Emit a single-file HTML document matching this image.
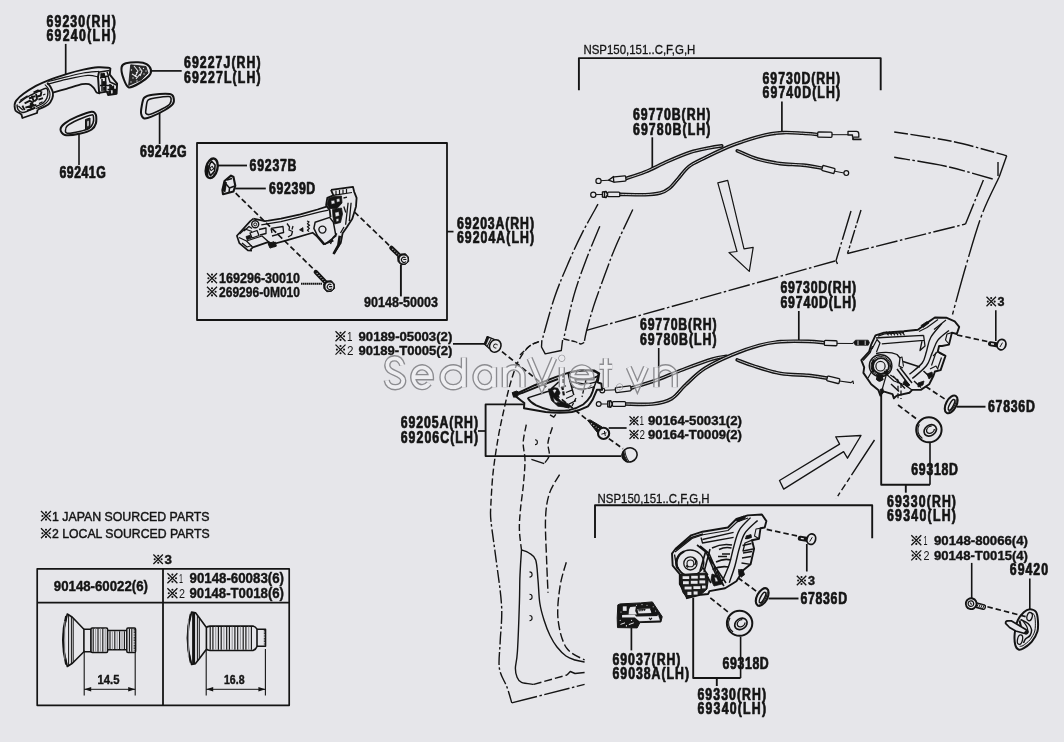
<!DOCTYPE html>
<html><head><meta charset="utf-8"><title>Door lock &amp; handle diagram</title>
<style>
html,body{margin:0;padding:0;background:#e6e6ea;}
body{width:1064px;height:742px;overflow:hidden;font-family:"Liberation Sans",sans-serif;}
svg{display:block;}
svg text{font-family:"Liberation Sans",sans-serif;fill:#141414;}
</style></head><body>
<svg width="1064" height="742" viewBox="0 0 1064 742">
<rect x="0" y="0" width="1064" height="742" style="fill:#e6e6ea;stroke:none"/>
<g fill="none" stroke="#141414" stroke-linejoin="round" stroke-linecap="butt" opacity="0.999">
<text transform="translate(46.4 26.5) scale(0.77 1)" x="0" y="0" font-size="16" font-weight="bold" textLength="90.1" lengthAdjust="spacing" stroke="#141414" stroke-width="0.75">69230(RH)</text>
<text transform="translate(46.4 41.4) scale(0.77 1)" x="0" y="0" font-size="16" font-weight="bold" textLength="90.1" lengthAdjust="spacing" stroke="#141414" stroke-width="0.75">69240(LH)</text>
<text transform="translate(184.0 67.7) scale(0.77 1)" x="0" y="0" font-size="16" font-weight="bold" textLength="99.5" lengthAdjust="spacing" stroke="#141414" stroke-width="0.75">69227J(RH)</text>
<text transform="translate(184.0 82.7) scale(0.77 1)" x="0" y="0" font-size="16" font-weight="bold" textLength="99.5" lengthAdjust="spacing" stroke="#141414" stroke-width="0.75">69227L(LH)</text>
<text transform="translate(140.0 157.4) scale(0.77 1)" x="0" y="0" font-size="16" font-weight="bold" textLength="60.6" lengthAdjust="spacing" stroke="#141414" stroke-width="0.75">69242G</text>
<text transform="translate(59.4 178.4) scale(0.77 1)" x="0" y="0" font-size="16" font-weight="bold" textLength="60.3" lengthAdjust="spacing" stroke="#141414" stroke-width="0.75">69241G</text>
<text transform="translate(249.6 171.3) scale(0.77 1)" x="0" y="0" font-size="16" font-weight="bold" textLength="60.9" lengthAdjust="spacing" stroke="#141414" stroke-width="0.75">69237B</text>
<text transform="translate(269.0 193.9) scale(0.77 1)" x="0" y="0" font-size="16" font-weight="bold" textLength="60.1" lengthAdjust="spacing" stroke="#141414" stroke-width="0.75">69239D</text>
<g stroke="#141414" stroke-width="1.3" fill="none"><path d="M207.0 273.2L217.0 283.2M217.0 273.2L207.0 283.2"/></g>
<circle cx="212.0" cy="274.6" r="1.05" fill="#141414" stroke="none"/>
<circle cx="212.0" cy="281.8" r="1.05" fill="#141414" stroke="none"/>
<circle cx="208.4" cy="278.2" r="1.05" fill="#141414" stroke="none"/>
<circle cx="215.6" cy="278.2" r="1.05" fill="#141414" stroke="none"/>
<text x="219.0" y="283.0" font-size="14.5" font-weight="bold" textLength="81.0" lengthAdjust="spacingAndGlyphs" stroke="#141414" stroke-width="0.4">169296-30010</text>
<g stroke="#141414" stroke-width="1.3" fill="none"><path d="M207.0 286.8L217.0 296.8M217.0 286.8L207.0 296.8"/></g>
<circle cx="212.0" cy="288.2" r="1.05" fill="#141414" stroke="none"/>
<circle cx="212.0" cy="295.4" r="1.05" fill="#141414" stroke="none"/>
<circle cx="208.4" cy="291.8" r="1.05" fill="#141414" stroke="none"/>
<circle cx="215.6" cy="291.8" r="1.05" fill="#141414" stroke="none"/>
<text x="219.0" y="296.6" font-size="14.5" font-weight="bold" textLength="81.0" lengthAdjust="spacingAndGlyphs" stroke="#141414" stroke-width="0.4">269296-0M010</text>
<text x="364.0" y="307.4" font-size="14" font-weight="bold" textLength="74.0" lengthAdjust="spacingAndGlyphs" stroke="#141414" stroke-width="0.4">90148-50003</text>
<text transform="translate(457.0 228.6) scale(0.77 1)" x="0" y="0" font-size="16" font-weight="bold" textLength="100.0" lengthAdjust="spacing" stroke="#141414" stroke-width="0.75">69203A(RH)</text>
<text transform="translate(457.0 243.0) scale(0.77 1)" x="0" y="0" font-size="16" font-weight="bold" textLength="100.0" lengthAdjust="spacing" stroke="#141414" stroke-width="0.75">69204A(LH)</text>
<g stroke="#141414" stroke-width="1.3" fill="none"><path d="M335.5 331.3L345.5 341.3M345.5 331.3L335.5 341.3"/></g>
<circle cx="340.5" cy="332.7" r="1.05" fill="#141414" stroke="none"/>
<circle cx="340.5" cy="339.9" r="1.05" fill="#141414" stroke="none"/>
<circle cx="336.9" cy="336.3" r="1.05" fill="#141414" stroke="none"/>
<circle cx="344.1" cy="336.3" r="1.05" fill="#141414" stroke="none"/>
<text x="347.0" y="341.3" font-size="13" font-weight="normal" textLength="5.5" lengthAdjust="spacingAndGlyphs" stroke="none">1</text>
<text x="358.5" y="341.3" font-size="13.5" font-weight="bold" textLength="93.8" lengthAdjust="spacingAndGlyphs" stroke="#141414" stroke-width="0.4">90189-05003(2)</text>
<g stroke="#141414" stroke-width="1.3" fill="none"><path d="M335.5 344.6L345.5 354.6M345.5 344.6L335.5 354.6"/></g>
<circle cx="340.5" cy="346.0" r="1.05" fill="#141414" stroke="none"/>
<circle cx="340.5" cy="353.2" r="1.05" fill="#141414" stroke="none"/>
<circle cx="336.9" cy="349.6" r="1.05" fill="#141414" stroke="none"/>
<circle cx="344.1" cy="349.6" r="1.05" fill="#141414" stroke="none"/>
<text x="347.0" y="354.6" font-size="13" font-weight="normal" textLength="6.5" lengthAdjust="spacingAndGlyphs" stroke="none">2</text>
<text x="358.5" y="354.6" font-size="13.5" font-weight="bold" textLength="93.8" lengthAdjust="spacingAndGlyphs" stroke="#141414" stroke-width="0.4">90189-T0005(2)</text>
<text transform="translate(400.7 428.3) scale(0.77 1)" x="0" y="0" font-size="16" font-weight="bold" textLength="100.4" lengthAdjust="spacing" stroke="#141414" stroke-width="0.75">69205A(RH)</text>
<text transform="translate(400.7 442.8) scale(0.77 1)" x="0" y="0" font-size="16" font-weight="bold" textLength="100.4" lengthAdjust="spacing" stroke="#141414" stroke-width="0.75">69206C(LH)</text>
<g stroke="#141414" stroke-width="1.3" fill="none"><path d="M629.5 416.3L638.5 425.3M638.5 416.3L629.5 425.3"/></g>
<circle cx="634.0" cy="417.6" r="1.05" fill="#141414" stroke="none"/>
<circle cx="634.0" cy="424.0" r="1.05" fill="#141414" stroke="none"/>
<circle cx="630.8" cy="420.8" r="1.05" fill="#141414" stroke="none"/>
<circle cx="637.2" cy="420.8" r="1.05" fill="#141414" stroke="none"/>
<text x="639.5" y="425.3" font-size="12" font-weight="normal" textLength="4.5" lengthAdjust="spacingAndGlyphs" stroke="none">1</text>
<text x="648.0" y="425.3" font-size="12.5" font-weight="bold" textLength="94.0" lengthAdjust="spacingAndGlyphs" stroke="#141414" stroke-width="0.4">90164-50031(2)</text>
<g stroke="#141414" stroke-width="1.3" fill="none"><path d="M629.5 430.0L638.5 439.0M638.5 430.0L629.5 439.0"/></g>
<circle cx="634.0" cy="431.3" r="1.05" fill="#141414" stroke="none"/>
<circle cx="634.0" cy="437.7" r="1.05" fill="#141414" stroke="none"/>
<circle cx="630.8" cy="434.5" r="1.05" fill="#141414" stroke="none"/>
<circle cx="637.2" cy="434.5" r="1.05" fill="#141414" stroke="none"/>
<text x="639.5" y="439.0" font-size="12" font-weight="normal" textLength="5.5" lengthAdjust="spacingAndGlyphs" stroke="none">2</text>
<text x="648.0" y="439.0" font-size="12.5" font-weight="bold" textLength="94.0" lengthAdjust="spacingAndGlyphs" stroke="#141414" stroke-width="0.4">90164-T0009(2)</text>
<text x="583.4" y="54.0" font-size="12.4" font-weight="normal" textLength="112.0" lengthAdjust="spacingAndGlyphs" stroke="#141414" stroke-width="0.3">NSP150,151..C,F,G,H</text>
<text transform="translate(633.0 119.8) scale(0.77 1)" x="0" y="0" font-size="16" font-weight="bold" textLength="100.5" lengthAdjust="spacing" stroke="#141414" stroke-width="0.75">69770B(RH)</text>
<text transform="translate(633.0 134.6) scale(0.77 1)" x="0" y="0" font-size="16" font-weight="bold" textLength="100.5" lengthAdjust="spacing" stroke="#141414" stroke-width="0.75">69780B(LH)</text>
<text transform="translate(762.6 84.0) scale(0.77 1)" x="0" y="0" font-size="16" font-weight="bold" textLength="100.6" lengthAdjust="spacing" stroke="#141414" stroke-width="0.75">69730D(RH)</text>
<text transform="translate(762.6 98.2) scale(0.77 1)" x="0" y="0" font-size="16" font-weight="bold" textLength="100.6" lengthAdjust="spacing" stroke="#141414" stroke-width="0.75">69740D(LH)</text>
<text transform="translate(780.4 293.0) scale(0.77 1)" x="0" y="0" font-size="16" font-weight="bold" textLength="98.2" lengthAdjust="spacing" stroke="#141414" stroke-width="0.75">69730D(RH)</text>
<text transform="translate(780.4 308.0) scale(0.77 1)" x="0" y="0" font-size="16" font-weight="bold" textLength="98.2" lengthAdjust="spacing" stroke="#141414" stroke-width="0.75">69740D(LH)</text>
<text transform="translate(640.0 330.0) scale(0.77 1)" x="0" y="0" font-size="16" font-weight="bold" textLength="99.4" lengthAdjust="spacing" stroke="#141414" stroke-width="0.75">69770B(RH)</text>
<text transform="translate(640.0 345.0) scale(0.77 1)" x="0" y="0" font-size="16" font-weight="bold" textLength="99.4" lengthAdjust="spacing" stroke="#141414" stroke-width="0.75">69780B(LH)</text>
<g stroke="#141414" stroke-width="1.3" fill="none"><path d="M986.5 296.8L996.0 306.3M996.0 296.8L986.5 306.3"/></g>
<circle cx="991.2" cy="298.1" r="1.05" fill="#141414" stroke="none"/>
<circle cx="991.2" cy="305.0" r="1.05" fill="#141414" stroke="none"/>
<circle cx="987.8" cy="301.6" r="1.05" fill="#141414" stroke="none"/>
<circle cx="994.7" cy="301.6" r="1.05" fill="#141414" stroke="none"/>
<text x="997.5" y="306.3" font-size="12" font-weight="bold" textLength="7.0" lengthAdjust="spacingAndGlyphs" stroke="#141414" stroke-width="0.4">3</text>
<text transform="translate(988.0 411.6) scale(0.77 1)" x="0" y="0" font-size="16" font-weight="bold" textLength="60.8" lengthAdjust="spacing" stroke="#141414" stroke-width="0.75">67836D</text>
<text transform="translate(911.3 474.6) scale(0.77 1)" x="0" y="0" font-size="16" font-weight="bold" textLength="60.6" lengthAdjust="spacing" stroke="#141414" stroke-width="0.75">69318D</text>
<text transform="translate(887.0 506.5) scale(0.77 1)" x="0" y="0" font-size="16" font-weight="bold" textLength="89.6" lengthAdjust="spacing" stroke="#141414" stroke-width="0.75">69330(RH)</text>
<text transform="translate(887.0 521.0) scale(0.77 1)" x="0" y="0" font-size="16" font-weight="bold" textLength="89.6" lengthAdjust="spacing" stroke="#141414" stroke-width="0.75">69340(LH)</text>
<g stroke="#141414" stroke-width="1.3" fill="none"><path d="M911.3 535.3L921.3 545.3M921.3 535.3L911.3 545.3"/></g>
<circle cx="916.3" cy="536.7" r="1.05" fill="#141414" stroke="none"/>
<circle cx="916.3" cy="543.9" r="1.05" fill="#141414" stroke="none"/>
<circle cx="912.7" cy="540.3" r="1.05" fill="#141414" stroke="none"/>
<circle cx="919.9" cy="540.3" r="1.05" fill="#141414" stroke="none"/>
<text x="923.5" y="545.3" font-size="13" font-weight="normal" textLength="4.0" lengthAdjust="spacingAndGlyphs" stroke="none">1</text>
<text x="934.0" y="545.3" font-size="13.5" font-weight="bold" textLength="94.0" lengthAdjust="spacingAndGlyphs" stroke="#141414" stroke-width="0.4">90148-80066(4)</text>
<g stroke="#141414" stroke-width="1.3" fill="none"><path d="M911.3 550.4L921.3 560.4M921.3 550.4L911.3 560.4"/></g>
<circle cx="916.3" cy="551.8" r="1.05" fill="#141414" stroke="none"/>
<circle cx="916.3" cy="559.0" r="1.05" fill="#141414" stroke="none"/>
<circle cx="912.7" cy="555.4" r="1.05" fill="#141414" stroke="none"/>
<circle cx="919.9" cy="555.4" r="1.05" fill="#141414" stroke="none"/>
<text x="923.5" y="560.4" font-size="13" font-weight="normal" textLength="6.0" lengthAdjust="spacingAndGlyphs" stroke="none">2</text>
<text x="934.0" y="560.4" font-size="13.5" font-weight="bold" textLength="94.0" lengthAdjust="spacingAndGlyphs" stroke="#141414" stroke-width="0.4">90148-T0015(4)</text>
<text transform="translate(1009.8 575.4) scale(0.77 1)" x="0" y="0" font-size="16" font-weight="bold" textLength="49.6" lengthAdjust="spacing" stroke="#141414" stroke-width="0.75">69420</text>
<text x="597.5" y="503.0" font-size="12.4" font-weight="normal" textLength="112.0" lengthAdjust="spacingAndGlyphs" stroke="#141414" stroke-width="0.3">NSP150,151..C,F,G,H</text>
<g stroke="#141414" stroke-width="1.3" fill="none"><path d="M796.8 575.8L806.3 585.3M806.3 575.8L796.8 585.3"/></g>
<circle cx="801.5" cy="577.1" r="1.05" fill="#141414" stroke="none"/>
<circle cx="801.5" cy="584.0" r="1.05" fill="#141414" stroke="none"/>
<circle cx="798.1" cy="580.5" r="1.05" fill="#141414" stroke="none"/>
<circle cx="805.0" cy="580.5" r="1.05" fill="#141414" stroke="none"/>
<text x="808.0" y="585.3" font-size="12" font-weight="bold" textLength="7.0" lengthAdjust="spacingAndGlyphs" stroke="#141414" stroke-width="0.4">3</text>
<text transform="translate(800.6 604.0) scale(0.77 1)" x="0" y="0" font-size="16" font-weight="bold" textLength="60.3" lengthAdjust="spacing" stroke="#141414" stroke-width="0.75">67836D</text>
<text transform="translate(612.5 664.5) scale(0.77 1)" x="0" y="0" font-size="16" font-weight="bold" textLength="88.3" lengthAdjust="spacing" stroke="#141414" stroke-width="0.75">69037(RH)</text>
<text transform="translate(612.5 678.8) scale(0.77 1)" x="0" y="0" font-size="16" font-weight="bold" textLength="99.4" lengthAdjust="spacing" stroke="#141414" stroke-width="0.75">69038A(LH)</text>
<text transform="translate(722.5 668.8) scale(0.77 1)" x="0" y="0" font-size="16" font-weight="bold" textLength="60.1" lengthAdjust="spacing" stroke="#141414" stroke-width="0.75">69318D</text>
<text transform="translate(697.5 699.5) scale(0.77 1)" x="0" y="0" font-size="16" font-weight="bold" textLength="89.0" lengthAdjust="spacing" stroke="#141414" stroke-width="0.75">69330(RH)</text>
<text transform="translate(697.5 713.8) scale(0.77 1)" x="0" y="0" font-size="16" font-weight="bold" textLength="89.0" lengthAdjust="spacing" stroke="#141414" stroke-width="0.75">69340(LH)</text>
<g stroke="#141414" stroke-width="1.3" fill="none"><path d="M41.0 511.0L51.0 521.0M51.0 511.0L41.0 521.0"/></g>
<circle cx="46.0" cy="512.4" r="1.05" fill="#141414" stroke="none"/>
<circle cx="46.0" cy="519.6" r="1.05" fill="#141414" stroke="none"/>
<circle cx="42.4" cy="516.0" r="1.05" fill="#141414" stroke="none"/>
<circle cx="49.6" cy="516.0" r="1.05" fill="#141414" stroke="none"/>
<text x="52.0" y="521.0" font-size="12.5" font-weight="normal" textLength="157.6" lengthAdjust="spacingAndGlyphs" stroke="#141414" stroke-width="0.45">1 JAPAN SOURCED PARTS</text>
<g stroke="#141414" stroke-width="1.3" fill="none"><path d="M41.0 528.3L51.0 538.3M51.0 528.3L41.0 538.3"/></g>
<circle cx="46.0" cy="529.7" r="1.05" fill="#141414" stroke="none"/>
<circle cx="46.0" cy="536.9" r="1.05" fill="#141414" stroke="none"/>
<circle cx="42.4" cy="533.3" r="1.05" fill="#141414" stroke="none"/>
<circle cx="49.6" cy="533.3" r="1.05" fill="#141414" stroke="none"/>
<text x="52.0" y="538.3" font-size="12.5" font-weight="normal" textLength="157.6" lengthAdjust="spacingAndGlyphs" stroke="#141414" stroke-width="0.45">2 LOCAL SOURCED PARTS</text>
<g stroke="#141414" stroke-width="1.3" fill="none"><path d="M153.4 554.5L162.9 564.0M162.9 554.5L153.4 564.0"/></g>
<circle cx="158.2" cy="555.8" r="1.05" fill="#141414" stroke="none"/>
<circle cx="158.2" cy="562.7" r="1.05" fill="#141414" stroke="none"/>
<circle cx="154.7" cy="559.2" r="1.05" fill="#141414" stroke="none"/>
<circle cx="161.6" cy="559.2" r="1.05" fill="#141414" stroke="none"/>
<text x="164.5" y="564.0" font-size="12" font-weight="bold" textLength="7.4" lengthAdjust="spacingAndGlyphs" stroke="#141414" stroke-width="0.4">3</text>
<text x="53.8" y="590.6" font-size="14" font-weight="bold" textLength="94.2" lengthAdjust="spacingAndGlyphs" stroke="#141414" stroke-width="0.4">90148-60022(6)</text>
<g stroke="#141414" stroke-width="1.3" fill="none"><path d="M167.4 573.2L177.4 583.2M177.4 573.2L167.4 583.2"/></g>
<circle cx="172.4" cy="574.6" r="1.05" fill="#141414" stroke="none"/>
<circle cx="172.4" cy="581.8" r="1.05" fill="#141414" stroke="none"/>
<circle cx="168.8" cy="578.2" r="1.05" fill="#141414" stroke="none"/>
<circle cx="176.0" cy="578.2" r="1.05" fill="#141414" stroke="none"/>
<text x="179.0" y="583.2" font-size="13" font-weight="normal" textLength="4.0" lengthAdjust="spacingAndGlyphs" stroke="none">1</text>
<text x="189.5" y="583.2" font-size="14" font-weight="bold" textLength="94.5" lengthAdjust="spacingAndGlyphs" stroke="#141414" stroke-width="0.4">90148-60083(6)</text>
<g stroke="#141414" stroke-width="1.3" fill="none"><path d="M167.4 588.3L177.4 598.3M177.4 588.3L167.4 598.3"/></g>
<circle cx="172.4" cy="589.7" r="1.05" fill="#141414" stroke="none"/>
<circle cx="172.4" cy="596.9" r="1.05" fill="#141414" stroke="none"/>
<circle cx="168.8" cy="593.3" r="1.05" fill="#141414" stroke="none"/>
<circle cx="176.0" cy="593.3" r="1.05" fill="#141414" stroke="none"/>
<text x="179.0" y="598.3" font-size="13" font-weight="normal" textLength="6.0" lengthAdjust="spacingAndGlyphs" stroke="none">2</text>
<text x="189.5" y="598.3" font-size="14" font-weight="bold" textLength="94.5" lengthAdjust="spacingAndGlyphs" stroke="#141414" stroke-width="0.4">90148-T0018(6)</text>
<text x="97.6" y="684.0" font-size="12" font-weight="bold" textLength="21.9" lengthAdjust="spacingAndGlyphs" stroke="#141414" stroke-width="0.4">14.5</text>
<text x="224.0" y="684.0" font-size="12" font-weight="bold" textLength="20.5" lengthAdjust="spacingAndGlyphs" stroke="#141414" stroke-width="0.4">16.8</text>
<path d="M65.7 43.9L65.7 74.0" stroke-width="1.7"/>
<path d="M150.4 70.9L181.7 70.9" stroke-width="1.7"/>
<path d="M159.6 112.8L159.6 144.0" stroke-width="1.7"/>
<path d="M79.0 134.0L79.0 165.0" stroke-width="1.6"/>
<rect x="197" y="143" width="250" height="177" stroke-width="1.8"/>
<path d="M447.0 231.6L453.5 231.6" stroke-width="1.7"/>
<path d="M217.9 165.5L247.0 165.5" stroke-width="1.8"/>
<path d="M235.2 188.5L265.8 188.5" stroke-width="1.8"/>
<path d="M235.7 193.2L316.0 271.5" stroke-width="1.7" stroke-dasharray="5.5 3"/>
<path d="M354.5 212.0L391.4 247.5" stroke-width="1.7" stroke-dasharray="5.5 3"/>
<path d="M400.9 265.0L400.9 296.4" stroke-width="1.9"/>
<path d="M301.0 283.8L322.0 283.8" stroke-width="1.9" stroke-dasharray="1.6 0.4"/>
<path d="M453.0 343.9L486.5 343.9" stroke-width="1.7"/>
<path d="M523.8 404.4L485.6 404.4L485.6 456.1L621.0 456.1" stroke-width="1.9"/>
<path d="M478.0 431.0L485.6 431.0" stroke-width="1.7"/>
<path d="M608.7 428.0L626.6 428.0" stroke-width="1.7"/>
<path d="M578.9 90.2L578.9 58.1L880.7 58.1L880.7 90.2" stroke-width="1.9"/>
<path d="M652.3 137.3L652.3 168.0" stroke-width="1.7"/>
<path d="M781.9 101.5L781.9 131.6" stroke-width="1.7"/>
<path d="M798.8 311.0L798.8 340.5" stroke-width="1.7"/>
<path d="M658.7 348.0L658.7 386.6" stroke-width="1.6"/>
<path d="M995.8 310.3L995.8 341.0" stroke-width="1.6"/>
<path d="M957.0 406.7L985.5 406.7" stroke-width="1.9"/>
<path d="M930.0 443.0L930.0 484.7" stroke-width="1.6"/>
<path d="M881.2 395.0L881.2 484.7L930.0 484.7" stroke-width="1.9"/>
<path d="M905.8 484.7L905.8 492.7" stroke-width="1.9"/>
<path d="M971.7 562.9L971.7 598.0" stroke-width="1.6"/>
<path d="M1029.8 578.6L1029.8 610.0" stroke-width="1.6"/>
<path d="M595.0 538.0L595.0 505.2L872.2 505.2L872.2 538.3" stroke-width="1.9"/>
<path d="M806.8 544.0L806.8 571.5" stroke-width="1.7"/>
<path d="M768.5 598.5L798.5 598.5" stroke-width="1.9"/>
<path d="M740.6 636.6L740.6 678.0" stroke-width="1.6"/>
<path d="M693.2 597.8L693.2 678.0L740.6 678.0" stroke-width="1.9"/>
<path d="M716.8 678.0L716.8 686.0" stroke-width="1.9"/>
<path d="M631.4 627.9L631.4 650.4" stroke-width="1.7"/>
<rect x="37.2" y="568.8" width="252" height="136.5" stroke-width="1.7"/>
<path d="M37.2 602.6L289.2 602.6" stroke-width="1.9"/>
<path d="M163.0 568.8L163.0 705.3" stroke-width="1.8"/>
<path d="M84.2 650.5L84.2 695.5" stroke-width="1.1"/>
<path d="M135.2 650.5L135.2 695.5" stroke-width="1.1"/>
<path d="M206.2 649.0L206.2 695.5" stroke-width="1.1"/>
<path d="M265.4 649.0L265.4 695.5" stroke-width="1.1"/>
<path d="M84.2 689.3L135.2 689.3" stroke-width="1.0"/>
<path d="M84.2 689.3l7 -2.2v4.4z M135.2 689.3l-7 -2.2v4.4z" fill="#141414" stroke="none"/>
<path d="M206.2 689.3L265.4 689.3" stroke-width="1.0"/>
<path d="M206.2 689.3l7 -2.2v4.4z M265.4 689.3l-7 -2.2v4.4z" fill="#141414" stroke="none"/>
<path d="M598.0 204.2C595.3 209.1 586.9 223.7 581.9 233.6C576.9 243.5 572.7 252.7 568.1 263.4C563.5 274.1 558.8 284.7 554.4 297.7C550.0 310.7 543.9 334.0 541.8 341.3" stroke-width="1.4" fill="none" stroke-dasharray="22 2.5 2.5 2.5"/>
<path d="M541.8 341.3L541.5 347.0L545.2 353.9L561.3 350.5L562.6 340.0" stroke-width="1.4"/>
<path d="M599.8 226.2C597.6 231.6 590.8 247.3 586.5 258.8C582.2 270.3 577.7 282.0 573.9 295.4C570.1 308.8 565.3 331.7 563.6 339.0" stroke-width="1.4" fill="none" stroke-dasharray="22 2.5 2.5 2.5"/>
<path d="M632.8 209.5C630.0 215.4 621.0 234.1 616.3 245.0C611.6 255.9 608.6 264.5 604.8 274.8C601.0 285.1 596.4 297.5 593.4 306.9C590.4 316.3 588.0 325.1 586.5 331.0C585.0 336.9 584.6 340.5 584.2 342.4" stroke-width="1.4" fill="none" stroke-dasharray="22 2.5 2.5 2.5"/>
<path d="M563.6 339.0C565.5 339.4 572.1 340.9 575.0 341.7C577.9 342.5 579.2 343.9 580.7 344.0C582.2 344.1 583.6 342.7 584.2 342.4" stroke-width="1.4" fill="none" stroke-dasharray="6 2"/>
<path d="M586.5 330.3L836.0 260.7" stroke-width="1.4" stroke-dasharray="22 2.5 2.5 2.5"/>
<path d="M851.0 211.0L836.0 260.7L837.5 264.0" stroke-width="1.4" stroke-dasharray="30 2.5 2.5 2.5"/>
<path d="M861.0 210.0L847.5 253.5" stroke-width="1.4" stroke-dasharray="14 2 3 2"/>
<path d="M847.5 253.5L965.5 224.0" stroke-width="1.4" stroke-dasharray="22 2.5 2.5 2.5"/>
<path d="M965.5 224.0L983.4 180.0" stroke-width="1.4" stroke-dasharray="22 2.5 2.5 2.5"/>
<path d="M894.2 132.0C904.2 133.6 935.2 137.8 954.0 141.8C972.8 145.8 997.9 153.5 1006.7 155.8" stroke-width="1.4" fill="none" stroke-dasharray="14 2.5 20 2.5 2.5 2.5"/>
<path d="M894.2 157.3C902.6 158.8 928.3 162.4 944.7 166.0C961.1 169.6 984.7 176.8 992.7 179.0" stroke-width="1.4" fill="none" stroke-dasharray="16 2.5 2.5 2.5 30 2.5"/>
<path d="M1006.7 155.8L999.0 177.5" stroke-width="1.4"/>
<path d="M998.0 162.0L998.0 176.0" stroke-width="1.4"/>
<path d="M998.9 177.5C996.1 183.7 987.3 200.2 981.9 214.7C976.5 229.2 971.3 247.7 966.4 264.3C961.5 280.9 954.8 306.1 952.5 314.5" stroke-width="1.4" fill="none" stroke-dasharray="38 3 3 3"/>
<path d="M874.5 440.0L836.0 498.7" stroke-width="1.4" stroke-dasharray="42 3 5 3 7 3 4 3"/>
<path d="M520.0 355.0C521.9 353.3 527.9 347.0 531.5 344.7C535.1 342.4 540.1 341.9 541.8 341.3" stroke-width="1.4" fill="none" stroke-dasharray="6 2.5"/>
<path d="M539.0 341.5C537.3 342.4 532.3 343.4 528.9 346.6C525.5 349.8 521.6 354.9 518.6 360.7C515.6 366.5 513.3 373.5 511.0 381.2C508.7 388.9 506.7 397.4 504.6 406.8C502.5 416.2 500.1 426.4 498.2 437.5C496.3 448.6 494.3 461.4 493.0 473.3C491.7 485.2 491.0 503.1 490.6 509.0" stroke-width="1.4" fill="none" stroke-dasharray="7 3"/>
<path d="M490.6 509.0C490.7 511.1 490.1 512.9 491.0 521.5C491.9 530.1 494.4 546.4 496.2 560.5C498.0 574.6 500.9 592.8 501.6 606.3C502.3 619.8 500.6 631.1 500.2 641.4C499.8 651.7 498.3 660.7 499.4 668.3C500.5 675.9 504.9 681.4 507.0 687.2C509.1 693.0 511.0 700.3 511.8 702.9" stroke-width="1.4" fill="none" stroke-dasharray="13 2.5 2.5 2.5"/>
<path d="M511.8 702.9L584.6 684.4" stroke-width="1.4" stroke-dasharray="26 2.5 2.5 2.5"/>
<path d="M526.3 424.7C525.8 427.7 523.4 436.6 523.2 442.6C523.0 448.6 525.0 453.7 525.0 460.5C525.0 467.3 524.2 475.5 523.5 483.6C522.8 491.7 521.2 501.3 520.5 509.0C519.8 516.7 519.2 523.2 519.4 530.0C519.6 536.8 521.1 546.7 521.5 550.0" stroke-width="1.4" fill="none" stroke-dasharray="7 3"/>
<path d="M521.5 550.0C522.8 550.5 526.6 551.3 529.0 553.0C531.4 554.7 534.2 555.5 535.7 560.0C537.2 564.5 537.3 572.8 538.0 580.0C538.7 587.2 538.8 596.3 539.8 603.0C540.8 609.7 542.3 614.6 544.0 620.0C545.7 625.4 547.8 631.0 550.0 635.5C552.2 640.0 554.3 643.6 557.0 647.0C559.7 650.4 563.0 653.8 566.0 656.0C569.0 658.2 571.9 659.0 575.0 660.0C578.1 661.0 583.0 661.7 584.6 662.0" stroke-width="1.4" fill="none"/>
<path d="M521.5 550.0C521.2 554.2 520.4 566.2 520.0 575.0C519.6 583.8 519.8 590.2 519.4 603.0C519.0 615.8 518.1 641.0 517.4 651.8C516.7 662.6 515.5 663.8 515.4 668.0C515.3 672.2 516.0 674.6 517.0 677.0C518.0 679.4 518.7 681.2 521.5 682.4C524.3 683.6 531.7 684.1 533.7 684.4" stroke-width="1.4" fill="none"/>
<path d="M533.7 684.4L567.0 675.0" stroke-width="1.4" stroke-dasharray="8 3"/>
<path d="M567.0 675.0L570.3 671.5L575.0 673.5L584.6 672.5" stroke-width="1.4"/>
<path d="M529.5 571.9a2.6 2.6 0 1 1 0 5.2" stroke-width="1.1"/>
<path d="M529.5 594.3a2.6 2.6 0 1 1 0 5.2" stroke-width="1.1"/>
<path d="M529.5 615.5a2.6 2.6 0 1 1 0 5.2" stroke-width="1.1"/>
<path d="M552.4 427.3C551.7 429.9 548.5 437.9 548.0 442.6C547.5 447.3 549.9 451.9 549.3 455.4C548.7 458.9 545.1 462.2 544.2 463.6" stroke-width="1.4" fill="none" stroke-dasharray="7 3"/>
<path d="M544.2 463.6L531.4 459.3" stroke-width="1.4"/>
<path d="M535 439.8a2.4 2.4 0 1 1 0 4.8" stroke-width="1.1"/>
<path d="M559.6 474.6C557.9 477.8 551.6 486.3 549.3 493.8C546.9 501.3 545.9 508.0 545.5 519.4C545.1 530.8 546.3 550.0 546.7 562.2C547.1 574.4 547.8 587.6 548.0 592.7" stroke-width="1.4" fill="none" stroke-dasharray="9 3"/>
<path d="M566.3 562.2C565.2 566.3 561.4 577.1 560.0 586.6C558.6 596.1 557.0 608.8 558.0 619.0C559.0 629.2 561.9 640.9 566.3 647.7C570.7 654.5 581.5 658.0 584.6 660.0" stroke-width="1.4" fill="none" stroke-dasharray="9 3"/>
<path d="M625.6 178.6C628.9 177.5 638.2 174.8 645.2 171.9C652.2 169.0 660.2 164.7 667.7 161.4C675.2 158.1 683.3 154.6 690.3 152.3C697.3 150.0 704.5 148.9 709.8 147.8C715.0 146.7 719.8 146.2 721.8 145.9" stroke-width="3.6" stroke-linecap="round"/>
<path d="M625.6 178.6C628.9 177.5 638.2 174.8 645.2 171.9C652.2 169.0 660.2 164.7 667.7 161.4C675.2 158.1 683.3 154.6 690.3 152.3C697.3 150.0 704.5 148.9 709.8 147.8C715.0 146.7 719.8 146.2 721.8 145.9" stroke-width="0.85" stroke="#e6e6ea" stroke-linecap="butt"/>
<path d="M601.0 180.7L609.0 180.2" stroke-width="1.0"/>
<path d="M608.5 180.2L613.5 176.6L614 182.2Z" stroke-width="1.4" fill="#e6e6ea"/>
<rect x="0" y="-2.6" width="12.3" height="5.2" rx="1" fill="#e6e6ea" stroke-width="1.3" transform="translate(613.6 179.6) rotate(-5.6)"/>
<circle cx="598.5" cy="180.9" r="2.6" stroke-width="1.2" fill="#e6e6ea"/>
<path d="M619.6 194.4C623.9 194.4 638.4 194.9 645.2 194.7C652.0 194.4 656.2 193.9 660.2 192.9C664.2 191.9 666.2 190.8 669.2 188.4C672.2 186.0 674.9 182.2 678.2 178.6C681.5 175.0 684.3 170.1 688.8 166.6C693.3 163.1 698.8 160.9 705.3 157.6C711.8 154.3 721.7 149.7 727.9 147.0C734.1 144.3 736.4 143.6 742.6 141.6C748.8 139.6 758.3 136.5 765.1 135.0C771.9 133.5 776.9 132.9 783.2 132.6C789.5 132.3 797.0 133.0 802.7 133.3C808.5 133.6 815.2 134.3 817.7 134.5" stroke-width="3.6" stroke-linecap="round"/>
<path d="M619.6 194.4C623.9 194.4 638.4 194.9 645.2 194.7C652.0 194.4 656.2 193.9 660.2 192.9C664.2 191.9 666.2 190.8 669.2 188.4C672.2 186.0 674.9 182.2 678.2 178.6C681.5 175.0 684.3 170.1 688.8 166.6C693.3 163.1 698.8 160.9 705.3 157.6C711.8 154.3 721.7 149.7 727.9 147.0C734.1 144.3 736.4 143.6 742.6 141.6C748.8 139.6 758.3 136.5 765.1 135.0C771.9 133.5 776.9 132.9 783.2 132.6C789.5 132.3 797.0 133.0 802.7 133.3C808.5 133.6 815.2 134.3 817.7 134.5" stroke-width="0.85" stroke="#e6e6ea" stroke-linecap="butt"/>
<path d="M595.8 194.6L603.0 194.5" stroke-width="1.0"/>
<path d="M602.5 192L606 191.5L607.8 194.4L606 197.5L602.5 197Z" stroke-width="1.5" fill="#e6e6ea"/>
<path d="M604.6 191.8L604.6 197.2" stroke-width="1.2"/>
<rect x="0" y="-2.3" width="12.2" height="4.6" rx="1" fill="#e6e6ea" stroke-width="1.3" transform="translate(607.6 194.4) rotate(0.0)"/>
<circle cx="593.3" cy="194.7" r="2.6" stroke-width="1.2" fill="#e6e6ea"/>
<rect x="0" y="-2.6" width="14.3" height="5.2" rx="1" fill="#e6e6ea" stroke-width="1.3" transform="translate(817.7 134.6) rotate(0.4)"/>
<path d="M832.0 134.7L848.0 134.7" stroke-width="1.0"/>
<path d="M848 131.4H856.5Q858.8 131.4 858.8 134V137.2H852.5V135H848Z" stroke-width="1.3" fill="#e6e6ea"/>
<path d="M853 137.5V139.3H861.5" stroke-width="1.8" fill="none"/>
<path d="M737.3 150.8C740.7 152.2 750.5 157.0 757.6 159.1C764.8 161.2 772.7 162.6 780.2 163.6C787.7 164.6 795.7 164.3 802.7 165.1C809.7 165.8 819.0 167.6 822.3 168.1" stroke-width="3.6" stroke-linecap="round"/>
<path d="M737.3 150.8C740.7 152.2 750.5 157.0 757.6 159.1C764.8 161.2 772.7 162.6 780.2 163.6C787.7 164.6 795.7 164.3 802.7 165.1C809.7 165.8 819.0 167.6 822.3 168.1" stroke-width="0.85" stroke="#e6e6ea" stroke-linecap="butt"/>
<rect x="0" y="-2.6" width="12.7" height="5.2" rx="1" fill="#e6e6ea" stroke-width="1.3" transform="translate(822.3 167.8) rotate(15.6)"/>
<path d="M834.5 171.2L844.0 173.0" stroke-width="1.0"/>
<circle cx="846.3" cy="173.1" r="2.4" stroke-width="1.2" fill="#e6e6ea"/>
<path d="M717.8 182.8L727.7 180.3L744 248.8L753.2 247.4L749.3 271.4L729 252.5L737 251.5Z" stroke-width="1.2" fill="none"/>
<path d="M630.9 388.2C635.4 386.8 649.0 382.8 658.1 379.5C667.2 376.2 676.3 372.0 685.4 368.6C694.5 365.2 705.8 361.1 712.6 359.0C719.4 356.9 724.0 356.8 726.3 356.3" stroke-width="3.6" stroke-linecap="round"/>
<path d="M630.9 388.2C635.4 386.8 649.0 382.8 658.1 379.5C667.2 376.2 676.3 372.0 685.4 368.6C694.5 365.2 705.8 361.1 712.6 359.0C719.4 356.9 724.0 356.8 726.3 356.3" stroke-width="0.85" stroke="#e6e6ea" stroke-linecap="butt"/>
<path d="M604.5 390.3L616.0 389.8" stroke-width="1.0"/>
<rect x="0" y="-2.5" width="15.6" height="5" rx="1" fill="#e6e6ea" stroke-width="1.3" transform="translate(615.5 390.2) rotate(-7.4)"/>
<circle cx="602.3" cy="390.4" r="2.4" stroke-width="1.2" fill="#e6e6ea"/>
<path d="M625.4 404.0C630.0 404.0 645.0 404.9 652.7 404.0C660.4 403.1 666.3 401.8 671.8 398.6C677.2 395.4 679.9 390.0 685.4 385.0C690.9 380.0 696.8 373.6 704.5 368.6C712.2 363.6 722.6 358.9 731.7 355.0C740.8 351.1 750.8 347.6 759.0 345.4C767.2 343.2 772.6 342.3 780.8 341.6C789.0 340.9 800.7 341.2 808.0 341.4C815.3 341.6 821.7 342.5 824.4 342.7" stroke-width="3.6" stroke-linecap="round"/>
<path d="M625.4 404.0C630.0 404.0 645.0 404.9 652.7 404.0C660.4 403.1 666.3 401.8 671.8 398.6C677.2 395.4 679.9 390.0 685.4 385.0C690.9 380.0 696.8 373.6 704.5 368.6C712.2 363.6 722.6 358.9 731.7 355.0C740.8 351.1 750.8 347.6 759.0 345.4C767.2 343.2 772.6 342.3 780.8 341.6C789.0 340.9 800.7 341.2 808.0 341.4C815.3 341.6 821.7 342.5 824.4 342.7" stroke-width="0.85" stroke="#e6e6ea" stroke-linecap="butt"/>
<path d="M601.0 404.0L609.0 404.0" stroke-width="1.0"/>
<path d="M607.8 401.2L610.8 400.8L612.4 404L610.8 407.2L607.8 406.8Z" stroke-width="1.5" fill="#e6e6ea"/>
<path d="M609.6 401.0L609.6 407.0" stroke-width="1.2"/>
<rect x="0" y="-2.3" width="13.2" height="4.6" rx="1" fill="#e6e6ea" stroke-width="1.3" transform="translate(612.4 404.0) rotate(0.0)"/>
<circle cx="598.7" cy="404" r="2.4" stroke-width="1.2" fill="#e6e6ea"/>
<rect x="0" y="-2.5" width="12.6" height="5" rx="1" fill="#e6e6ea" stroke-width="1.3" transform="translate(824.4 342.9) rotate(1.8)"/>
<path d="M837.0 343.4L853.0 343.5" stroke-width="1.0"/>
<path d="M853.3 342.6L855.5 340.2H868.2L869.4 342.6L868.2 345.2H855.5Z" stroke-width="0.8" fill="#141414"/>
<path d="M858.0 340.6L858.0 345.0" stroke-width="0.9" stroke="#e6e6ea"/>
<path d="M865.2 340.6L865.2 345.0" stroke-width="0.9" stroke="#e6e6ea"/>
<path d="M737.2 359.9C739.9 360.9 746.2 363.6 753.5 365.9C760.8 368.2 771.7 371.9 780.8 373.5C789.9 375.1 800.3 374.6 808.0 375.4C815.7 376.2 823.9 377.7 827.1 378.1" stroke-width="3.6" stroke-linecap="round"/>
<path d="M737.2 359.9C739.9 360.9 746.2 363.6 753.5 365.9C760.8 368.2 771.7 371.9 780.8 373.5C789.9 375.1 800.3 374.6 808.0 375.4C815.7 376.2 823.9 377.7 827.1 378.1" stroke-width="0.85" stroke="#e6e6ea" stroke-linecap="butt"/>
<rect x="0" y="-2.5" width="12.7" height="5" rx="1" fill="#e6e6ea" stroke-width="1.3" transform="translate(827.1 378.3) rotate(13.7)"/>
<path d="M839.4 381.0L851.0 382.6L853.0 381.0L853.5 384.0" stroke-width="1.1"/>
<path d="M779.5 480.5L839.6 444.1L835.7 436.8L861 435.5L847.5 458.2L843.6 451.6L783.7 489.1Z" stroke-width="1.3" fill="none"/>
<path d="M14.5 105.1C14.8 104.3 14.7 102.5 16.2 100.6C17.7 98.7 20.2 96.2 23.5 93.8C26.8 91.3 31.8 88.2 35.9 85.9C40.0 83.7 43.2 82.3 48.3 80.3C53.4 78.3 60.6 75.9 66.4 74.1C72.2 72.3 78.0 70.7 83.3 69.6C88.6 68.5 93.5 67.6 98.0 67.3C102.5 67.0 108.3 67.8 110.4 67.9" stroke-width="1.9" fill="none"/>
<path d="M48.3 81.6C51.3 80.8 60.6 78.3 66.4 76.9C72.2 75.5 77.8 73.9 83.3 73.0C88.8 72.1 96.5 71.6 99.1 71.3" stroke-width="1.1" fill="none"/>
<path d="M47.2 84.4C50.4 83.6 59.6 80.9 66.4 79.4C73.2 77.9 82.5 75.8 87.8 75.4C93.1 75.0 96.3 76.7 98.0 76.9" stroke-width="1.2" fill="none"/>
<path d="M52.9 92.7C54.7 92.2 62.5 89.9 66.4 88.8C70.3 87.7 79.2 84.8 82.2 84.2C85.2 83.6 87.4 83.7 88.9 84.2C90.4 84.7 92.4 86.5 93.5 87.6C94.6 88.7 95.9 91.9 96.8 92.7C97.7 93.5 99.7 93.2 100.2 93.3" stroke-width="1.8" fill="none"/>
<path d="M99.1 71.3L98 76.9L99.1 92.7L107 91.6L108.1 95L116.6 93.8L117.1 83.7L109.8 74.7L110.4 67.9" stroke-width="1.9" fill="none"/>
<path d="M99.5 72L109.5 70.5M100 78L108 76L110 82L116.5 85M102 79V91M105.6 77V91.5M110 84V94M113.4 85.5V94M100 85.5H112M107.5 89.5H116.5M103.5 73l1.5 4M107 72l1.6 4" stroke-width="1.5" fill="none"/>
<path d="M100.8 73.4h3.6v4h-3.6zM102.6 81.5h3.4v3.6h-3.4zM110.4 86.5h3v3h-3zM103.4 87h2.6v3.6h-2.6zM113.6 90h2.6v3h-2.6zM108.6 91h2v3h-2z" stroke-width="0.8" fill="#141414"/>
<path d="M14.5 105.1C14.7 106.0 14.5 109.2 15.6 110.7C16.7 112.2 20.4 113.5 21.3 114.1" stroke-width="1.9" fill="none"/>
<path d="M21.3 114.1L22.4 118L37 113L37.6 109.6" stroke-width="1.8" fill="none"/>
<path d="M37.6 109.6C39.4 108.8 45.8 106.4 48.3 104.5C50.8 102.6 51.5 100.3 52.3 98.3C53.1 96.3 53.2 94.6 52.9 92.7C52.6 90.8 51.5 88.7 50.6 87.0C49.7 85.3 47.8 83.3 47.2 82.6" stroke-width="1.8" fill="none"/>
<path d="M44.8 84.5C45.4 85.2 47.6 87.3 48.5 89.0C49.4 90.7 50.0 92.7 50.0 94.5C50.0 96.3 49.7 98.2 48.6 100.0C47.5 101.8 45.6 103.6 43.5 105.0C41.4 106.4 37.2 107.9 36.0 108.5" stroke-width="1.1" fill="none"/>
<path d="M19.0 102.9C20.3 102.0 23.7 99.1 26.9 97.2C30.1 95.3 35.0 93.1 38.2 91.6C41.4 90.1 44.5 88.1 46.1 88.2C47.7 88.3 47.8 90.3 47.9 92.0C48.0 93.7 47.6 96.5 46.8 98.3C46.0 100.1 45.0 101.6 43.2 103.0C41.4 104.4 37.1 106.0 35.9 106.6" stroke-width="1.4" fill="none"/>
<path d="M17.0 104.5C17.2 105.3 17.0 108.2 18.0 109.5C19.0 110.8 20.2 112.8 23.0 112.5C25.8 112.2 33.0 108.8 35.0 108.0" stroke-width="1.4" fill="none"/>
<path d="M33.5 92.5l4-2 4 .8M36 94l1 5-2.6 2.4M41.5 91.3l-.8 4.2-3.2 1M31.6 95.5l2.4 6.4M29 98.5l6-2.4M38.4 99.6l4.6-1.4" stroke-width="1.9" fill="none"/>
<path d="M24.6 103.4l5-2.6 3 1.6-.8 3.6 4.6-1M25.4 107.6l8.6-2.8M27 110.6l8.4-3M22.4 105.6l2.2 4.6M30.6 103l.8 6" stroke-width="1.9" fill="none"/>
<path d="M20 100.6l7.6-4.8M18.4 106l4.4 4M39 103.6l3.6-1.8M43 95l2.4-1" stroke-width="1.2" fill="none"/>
<path d="M121.6 67.2C122.0 65.0 123.4 64.0 125.9 63.3C128.4 62.6 135.0 62.2 138.1 62.3C141.2 62.4 144.7 63.1 146.6 64.2C148.5 65.3 150.5 68.0 150.9 69.7C151.3 71.4 150.7 73.9 149.1 75.8C147.5 77.7 143.5 80.8 140.5 82.5C137.5 84.2 131.5 88.0 128.9 87.4C126.3 86.8 124.5 81.2 123.4 78.2C122.3 75.2 121.2 69.4 121.6 67.2Z" stroke-width="2.1" fill="none"/>
<path d="M130.7 64.8L146 66.5L148 73L141 80L128.6 85.5Z" stroke-width="0.8" fill="#2a2a2a"/>
<path d="M134 66l4 5-3 6M139 67l3 4-2 5M132 74l5 3M136 79l4-5" stroke-width="1.1" fill="none" stroke="#e6e6ea"/>
<circle cx="131.5" cy="70" r="0.7" fill="#e6e6ea" stroke="none"/>
<circle cx="133" cy="78" r="0.7" fill="#e6e6ea" stroke="none"/>
<circle cx="136.5" cy="72.5" r="0.7" fill="#e6e6ea" stroke="none"/>
<circle cx="140" cy="70" r="0.7" fill="#e6e6ea" stroke="none"/>
<circle cx="143.5" cy="68.5" r="0.7" fill="#e6e6ea" stroke="none"/>
<circle cx="144" cy="74" r="0.7" fill="#e6e6ea" stroke="none"/>
<circle cx="131" cy="82" r="0.7" fill="#e6e6ea" stroke="none"/>
<circle cx="137" cy="81" r="0.7" fill="#e6e6ea" stroke="none"/>
<circle cx="146" cy="71" r="0.7" fill="#e6e6ea" stroke="none"/>
<path d="M141.7 106.3C142.1 104.1 142.7 99.4 144.2 97.8C145.7 96.2 149.1 95.2 152.7 94.7C156.3 94.2 166.9 93.6 169.8 93.9C172.7 94.2 173.1 95.8 173.5 97.2C173.9 98.6 174.1 102.1 172.9 103.9C171.7 105.7 168.0 108.2 165.0 110.0C162.0 111.8 154.4 115.5 151.5 116.7C148.6 117.9 145.7 118.9 144.2 118.5C142.7 118.1 141.4 115.3 141.1 113.6C140.8 111.9 141.3 108.5 141.7 106.3Z" stroke-width="2.0" fill="none"/>
<path d="M146.0 108.8C146.3 107.0 146.5 101.7 147.9 100.2C149.3 98.7 153.6 98.3 156.4 97.8C159.2 97.3 167.2 96.3 169.2 96.5C171.2 96.7 171.0 98.0 171.1 99.0C171.2 100.0 170.9 102.6 169.8 103.9C168.7 105.2 165.1 107.4 162.5 108.8C159.9 110.2 152.5 113.7 150.3 114.3C148.1 114.9 146.6 114.3 146.0 113.6C145.4 112.9 145.7 110.6 146.0 108.8Z" stroke-width="1.6" fill="none"/>
<path d="M60.5 129.5C60.5 127.9 62.5 125.2 64.8 123.4C67.1 121.6 73.2 118.3 77.0 116.7C80.8 115.1 89.1 112.1 91.7 111.8C94.3 111.5 95.3 113.3 95.9 114.9C96.5 116.5 96.5 121.4 95.9 123.4C95.3 125.4 94.0 128.0 91.7 129.5C89.4 131.0 83.2 133.0 79.4 133.8C75.6 134.6 67.4 135.6 64.8 135.0C62.2 134.4 60.5 131.1 60.5 129.5Z" stroke-width="2.0" fill="none"/>
<path d="M65.4 130.7C65.4 129.7 65.5 127.4 67.2 125.9C68.9 124.4 74.9 121.3 78.2 119.8C81.5 118.3 89.7 115.2 91.7 114.9C93.7 114.6 93.3 116.2 93.5 117.3C93.7 118.4 93.5 121.9 92.9 123.4C92.3 124.9 91.0 127.2 89.2 128.3C87.4 129.4 82.3 130.7 79.4 131.4C76.5 132.1 69.1 133.3 67.2 133.2C65.3 133.1 65.4 131.7 65.4 130.7Z" stroke-width="1.5" fill="none"/>
<path d="M85.5 119.5l4.5-1.5v9.5l-4.5 2z" stroke-width="1.0" fill="#222"/>
<path d="M87 121l2-.6v5.5l-2 .8z" stroke-width="0.5" fill="#e6e6ea"/>
<g transform="translate(211.7 168.3) rotate(14)">
<ellipse cx="0" cy="0" rx="5.7" ry="10" stroke-width="2.3" fill="#e6e6ea"/>
<path d="M-5.6 -1A5.6 10 0 0 0 -1.5 9.6L-2.5 5L-3.8 -2Z" fill="#141414" stroke-width="0.8"/>
<path d="M-2 -7L2.5 -4L3.5 2L0.5 7.5L-2.5 3L-3 -3Z" stroke-width="1.6"/>
<path d="M0 -2l2 2-2 2.5-2-2.5z" stroke-width="1"/>
<path d="M2.5 3.5q2 1 1 3" stroke-width="1"/>
</g>
<path d="M231 175.6L233.5 177L235.3 185.8L233.5 191.5L223 194.3L222.4 190L224.5 181Z" stroke-width="2.1" fill="#e6e6ea"/>
<path d="M227 180L232 178.5M226 184L229.5 188L234.8 186M229.5 188L229 193M225.5 182L224.5 190" stroke-width="1.5" fill="none"/>
<path d="M222.6 190L224.6 181.5L226.5 182.5L225 192Z" stroke-width="0.8" fill="#141414"/>
<path d="M253.4 218.7L265 221.1L280.9 218.7L300.4 214.4L317.5 209.5L327.3 206.4" stroke-width="1.7" fill="none"/>
<path d="M261.3 224.8L280.9 221.7L300.4 216.8L320 211.9L328.5 210.1" stroke-width="1.2" fill="none"/>
<path d="M250.3 249.8L252.8 247.4L268.7 241.9L272.3 244.3L285.8 240.6L312.6 232.7L316.3 235.8L323.6 244.3L333.4 240.6" stroke-width="1.7" fill="none"/>
<path d="M253.4 218.7L250.3 221.1L236.9 235.8L239.3 243.1L247.9 250.4L252 250.6" stroke-width="1.7" fill="none"/>
<path d="M239 237.5L246.5 241L252.8 247.4M246.5 241L262 236L268.7 241.9M239.5 234L245 229L252 231.5" stroke-width="1.3" fill="none"/>
<circle cx="255.2" cy="224.2" r="3.5" stroke-width="1.4"/>
<circle cx="255.2" cy="224.4" r="1.5" stroke-width="1.0"/>
<path d="M244 231l5-4.5 3 2M250 233l7-2.5 2 5-7 2.5zM259 229.5l7-1.5v5.5l-6 1.5M242 243l5 4 5-1.5" stroke-width="1.3" fill="none"/>
<path d="M246 236.5l4-1.2 1 3-4 1.4z" stroke-width="0.8" fill="#141414"/>
<path d="M268 243.5l6-1.8 1.2 4.6-5.2 1.8zM273 243l2.5-.8.8 4-2.6.8z" stroke-width="1.0" fill="#141414"/>
<path d="M271 228.4L283 226.5L283.6 232.5L277 234.2M271 228.4L272 233M272 236l8-2.2" stroke-width="1.3" fill="none"/>
<path d="M287 223.5l2.5 3.5-.5 3 3.5 1.5-1 3.5-3.5 2M293 226l-1 3.5" stroke-width="1.3" fill="none"/>
<path d="M299.5 229.8l3.4-2.2.2 4.2z" stroke-width="0.8" fill="#141414"/>
<path d="M307 221l2 .8-1.6 2 2.2 1.4-2.2 1.6 2 1.6-2 1.8 1.6 1.4" stroke-width="1.2" fill="none"/>
<path d="M315.1 222.3L329.7 217.4L333.4 222.3L335.9 235.8L324.9 244.3L317.5 235.8L313.9 228.4Z" stroke-width="1.5" fill="none"/>
<circle cx="322.4" cy="229.6" r="3.5" stroke-width="1.4"/>
<path d="M331 189.9L353 186.9L354.2 191.8L356.6 197.9L356 206.4L352.3 218.7L346.8 227.2L342.6 233.3L340.7 243.1L333.4 254.1" stroke-width="1.8" fill="none"/>
<path d="M331 189.9L333.4 195.4L327.3 197.9L326.1 205.2L329.7 210.1L330.5 217" stroke-width="1.8" fill="none"/>
<path d="M348.1 202.8L345.6 224.8M351.1 202.8L349.3 221.1" stroke-width="1.3" fill="none"/>
<path d="M333.4 195.4L352 192.5M336 190.5v4.5M339.5 190v4.5M343 189.5v4.5M346.5 189v4.5" stroke-width="1.2" fill="none"/>
<path d="M328.5 198.5L334 196.5L341.5 196L342 203L337 208.5L329.5 208.5L327.2 204.5Z" stroke-width="0.8" fill="#141414"/>
<path d="M332.5 209.5L341.5 208L342.5 214L340.5 222.5L334.5 224L333 217Z" stroke-width="0.8" fill="#141414"/>
<path d="M331 200.8l3.4-.6.5 3.2-3.4.8zM336.5 199l3-.4.4 3-3 .6zM335 212.5l3.8-.8.5 4-3.8 1zM336 219l2.6-.6.2 2.6-2.4.8z" stroke-width="0.4" fill="#e6e6ea"/>
<path d="M343.5 198l3.5-.8M343.8 206.5l2 6M344 227l-3.5 6" stroke-width="1.3" fill="none"/>
<path d="M339.8 235.8L338.3 245.5L333.6 253.8" stroke-width="2.6" fill="none"/>
<path d="M337 233.5L333 237.5L330.5 244" stroke-width="1.3" fill="none"/>
<path d="M315.8 272.1L326.2 283.1" stroke-width="4.4" stroke-linecap="round"/>
<path d="M316.8 273.2L326.2 283.1" stroke-width="1.1" stroke="#e6e6ea" stroke-dasharray="0.9 1.9"/>
<path d="M334.6 288.5L331.3 291.4L326.8 291.7L323.9 288.4L323.6 283.9L326.9 281.0L331.4 280.7L334.3 284.0Z" fill="#141414" stroke-width="1.0"/>
<circle cx="329.4" cy="286.6" r="4.0" fill="#e6e6ea" stroke="none"/>
<path d="M331.4 284.8a2.6 2.6 0 1 0 0.4 3.8M329.0 286.6h3.2" stroke-width="1.1"/>
<path d="M391.4 247.9L400.2 256.3" stroke-width="4.4" stroke-linecap="round"/>
<path d="M392.5 248.9L400.2 256.3" stroke-width="1.1" stroke="#e6e6ea" stroke-dasharray="0.9 1.9"/>
<path d="M408.7 261.5L405.4 264.4L400.9 264.7L398.0 261.4L397.7 256.9L401.0 254.0L405.5 253.7L408.4 257.0Z" fill="#141414" stroke-width="1.0"/>
<circle cx="403.6" cy="259.5" r="4.0" fill="#e6e6ea" stroke="none"/>
<path d="M405.6 257.7a2.6 2.6 0 1 0 0.4 3.8M403.2 259.5h3.2" stroke-width="1.1"/>
<path d="M513.9 394.9L534.7 385.2L555.4 377.1L568.8 372.6Q581 369.5 594 370.4L599.2 373.3L597.7 382.2L601.4 383.7L602.1 389.7L597 389.7L592.6 399.8Q590 404 587.9 406.4Q581 410 571.9 412Q560 413.6 545.6 412L524 408.2L524.3 403L521.3 400.8Z" stroke-width="2.0" fill="#e6e6ea"/>
<path d="M550 414.8l3.8 2.4 2-2.8" stroke-width="1.4" fill="none"/>
<path d="M512.2 392.6l4.6-1.6 3 2.2-2.6 3.4-3.6 .6z" stroke-width="1.0" fill="#141414"/>
<path d="M519 394.2L538 386.6L558 379" stroke-width="1.9" fill="none"/>
<path d="M527.7 397.9L548.4 391.3L558.8 381.9" stroke-width="1.5" fill="none"/>
<path d="M527.7 397.9Q530.5 402.5 536.2 405.4Q543 408.6 550.3 410.1Q560 411.4 569.1 410.1Q577 408.4 583.2 404.5Q588 400.6 590.7 396Q593 391.5 594 386.7" stroke-width="1.9" fill="none"/>
<ellipse cx="583.4" cy="374.6" rx="15" ry="4.4" stroke-width="1.7"/>
<path d="M568.6 376L573.8 395.1M598 376.5L593 390" stroke-width="1.5" fill="none"/>
<path d="M569.6 381Q583 386.4 597 381.6" stroke-width="1.4" fill="none"/>
<path d="M571 386.5Q583 391 595 386.5" stroke-width="1.2" fill="none"/>
<path d="M586 379.5L582 397M576 398L571 408" stroke-width="1.3" fill="none" stroke-dasharray="3.5 2"/>
<path d="M563 373.5L563.4 384M562.2 386L564 396" stroke-width="2.2" fill="none" stroke-dasharray="4 1.5"/>
<path d="M548.6 391l4.5-3.4 4.6.6 2.4 4.8-2.6 4.4 3.4 3.8 8 3-1.6 3.2-9.4-1.2-6.4-5.8z" stroke-width="0.8" fill="#141414"/>
<path d="M552.5 390.5l2.5-1.5 1.5 1.5-2 3zM553 397l3 3.5 4 2-1 1.2-4.5-1.5z" stroke-width="0.5" fill="#e6e6ea"/>
<path d="M561 388l5-2.2M566 392.5l6-2.4M566 398.5l7-3M569 404l7-3.4" stroke-width="1.2" fill="none"/>
<path d="M556.9 404.5l12.2 3.7 .6-2-12-4z" stroke-width="0.7" fill="#141414"/>
<path d="M587.5999999999999 420.3L590.1999999999999 419.9L602.4 427.2L597.6 432.79999999999995Z" stroke-width="1.0" fill="#141414"/>
<path d="M591.3 423.5L599.6 429.79999999999995" stroke-width="1.2" stroke="#e6e6ea" stroke-dasharray="0.8 2"/>
<circle cx="603.6" cy="433.4" r="5.6" fill="#e6e6ea" stroke-width="2.1"/>
<path d="M601.4 434.2l5-1.4M604.4 431.0l.9 5" stroke-width="1.0" fill="none"/>
<g transform="translate(629.6 454.9) rotate(-20)">
<ellipse cx="0" cy="0" rx="7.6" ry="7" stroke-width="1.6" fill="#e6e6ea"/>
<path d="M-4.2 -5.8A7.6 7 0 0 0 -4.2 5.8Q-5.6 0 -4.2 -5.8Z" fill="#141414" stroke-width="0.8"/>
<path d="M-2.8 -6.3Q-4.6 0 -2.8 6.3" stroke-width="1.0"/>
</g>
<path d="M502.0 351.7L589.0 421.2" stroke-width="1.7" stroke-dasharray="5.5 3"/>
<path d="M608.8 438.6L623.0 448.8" stroke-width="1.7" stroke-dasharray="5.5 3"/>
<g transform="translate(493.5 345) rotate(28)">
<path d="M-9.5 -4.5L-2 -5.2L-2 5.2L-8.5 3.4Z" stroke-width="1.3" fill="#e6e6ea"/>
<path d="M-9.5 -4.5L-7.5 -4.7L-6.8 3.9L-8.5 3.4Z" fill="#141414" stroke-width="0.7"/>
<path d="M-5 -5V4.4" stroke-width="1"/>
<ellipse cx="2" cy="0" rx="5.6" ry="6.4" stroke-width="1.6" fill="#e6e6ea"/>
<path d="M3.6 -1.6a2 2 0 1 0 0.3 2.8" stroke-width="0.9"/>
</g>
<path d="M875.5 335.4L884 332.6L903.8 331.2L917.9 329.8L926.4 323.4L934.9 317.5L946.2 317.7L954.7 321.3L959.2 326.9L956.8 334L951.9 332.6L949 344.6L942 346L939.1 346L937.7 351.7L945.5 355.9L940.6 370.1L934.9 371.5L933.5 375.8L929.2 384.2L920.8 389.9L912.3 389.9L909.4 392.7L896.7 395.6L893.9 398.4L892.5 394.1L883.3 391.3L880.4 395.6L878.3 389.9L871.2 384.2L863.4 372.9L864.2 367.3L861.3 360.2L869.1 351.7L871.2 344.6Z" stroke-width="1.9" fill="#e6e6ea"/>
<path d="M949.0 330.5C947.1 332.1 940.5 336.6 937.7 340.4C934.9 344.2 934.0 348.9 932.1 353.1C930.2 357.3 929.7 361.6 926.4 365.8C923.1 370.1 914.6 376.5 912.3 378.6" stroke-width="1.4" fill="none"/>
<path d="M942.0 323.4C940.1 325.8 933.3 332.8 930.7 337.5C928.1 342.2 927.8 347.4 926.4 351.7C925.0 355.9 925.0 359.2 922.2 363.0C919.4 366.8 911.5 372.4 909.4 374.3" stroke-width="1.4" fill="none"/>
<path d="M938 319.5L927 327.5L919 331.5M946 320L934 329.5" stroke-width="1.1" fill="none"/>
<path d="M921 325.5l6-4 2 1.5-6 4.5z" stroke-width="0.8" fill="#141414"/>
<path d="M886.0 331.6L888.5 335.4" stroke-width="1.1"/>
<path d="M889.2 331.6L891.7 335.4" stroke-width="1.1"/>
<path d="M892.4 331.6L894.9 335.4" stroke-width="1.1"/>
<path d="M895.6 331.6L898.1 335.4" stroke-width="1.1"/>
<path d="M898.8 331.6L901.3 335.4" stroke-width="1.1"/>
<path d="M902.0 331.6L904.5 335.4" stroke-width="1.1"/>
<path d="M876 338L882.5 337.5L923.6 335.4M881.8 343.9L923.6 340.4M923.6 335.4L925 346L920 350.5L922 341" stroke-width="1.3" fill="none"/>
<path d="M872 349L877 339.5L880 343L876.5 352" stroke-width="1.2" fill="none"/>
<ellipse cx="880.6" cy="365.8" rx="11.3" ry="11" stroke-width="1.4"/>
<ellipse cx="881" cy="366" rx="8" ry="7.8" stroke-width="1.8"/>
<ellipse cx="880.5" cy="366.2" rx="4.6" ry="4.8" stroke-width="1.2"/>
<path d="M876 353.5Q889 351 897 354.5L900 358L899 366L903 368" stroke-width="1.3" fill="none"/>
<path d="M899 358L902 357L903.5 366.5" stroke-width="1.1" fill="none"/>
<path d="M903 361.5L920 367M897 369L909 385M900 367.5L912 383" stroke-width="1.5" fill="none"/>
<path d="M884 372L894 381L905 385L912 390M886 376L882 390M872 371L868 378" stroke-width="1.2" fill="none"/>
<path d="M878 374l5 1-2 6-4-1zM905 380l5 5-3 2-4-4z" stroke-width="0.8" fill="#141414"/>
<path d="M880 389.5l3-1 .5 4-3 1.5z" stroke-width="0.8" fill="#141414"/>
<path d="M937.7 351.7L933 356M945.5 355.9L939 353M930 369L936 366L938 369.5" stroke-width="1.1" fill="none"/>
<path d="M927 374l5-2 1 4-4 3zM918 383l6-2-1 4-5 2z" stroke-width="0.8" fill="#141414"/>
<path d="M951.9 332.6L947 334L945.5 340L949 344" stroke-width="1.1" fill="none"/>
<path d="M872.5 346L870.2 352.5L863 360.5" stroke-width="1.3" fill="none"/>
<path d="M878 336.2L884.5 333.8L904 332.6" stroke-width="1.3" fill="none"/>
<ellipse cx="880.8" cy="366" rx="9.8" ry="9.5" stroke-width="1.0"/>
<path d="M873.5 372.5Q871 366 873.8 359.5" stroke-width="2.2" fill="none"/>
<path d="M877.5 375.5l4 .6 1.4 3.4-3.6 1.6-2.6-2zM885.8 369.5l2 3-2.6 1.6" stroke-width="1.5" fill="none"/>
<path d="M893 376L905 388.5M891 384L899 391.5M914 381L921 387.5M923.5 371L929.5 376.5" stroke-width="1.5" fill="none"/>
<path d="M936 352.5L931.5 365.5M941.5 357.5L937.5 369" stroke-width="1.2" fill="none"/>
<path d="M957.0 335.0L989.7 342.0" stroke-width="1.7" stroke-dasharray="5.5 3"/>
<path d="M925.8 386.5L945.9 399.8" stroke-width="1.7" stroke-dasharray="5.5 3"/>
<path d="M898.0 405.0L918.0 420.0" stroke-width="1.7" stroke-dasharray="5.5 3"/>
<path d="M884 371L898 380V400" stroke-width="1.3" fill="none" stroke-dasharray="5 2.5"/>
<path d="M901 383V399" stroke-width="1.3" fill="none" stroke-dasharray="5 2.5"/>
<path d="M672 553.6L675.6 548.7L691.1 535.3L702.5 531.7L727.9 527.5L736.4 519L747.7 515.4L761.9 514.5L766.4 521.1L764.7 527.5L760.5 528.2L759 538.8L752 540.2L754.1 548.7L750.6 564.3L743.5 569.9L736.4 581.2L725.1 588.3L709.5 591.1L708.1 594L701 594.7L686.9 598.2L685.5 592.6L679.8 584.1L679.8 574.2L672.7 565.7Z" stroke-width="1.9" fill="#e6e6ea"/>
<path d="M757.6 520.4C755.5 522.5 748.0 528.4 744.9 533.1C741.8 537.8 740.9 543.3 739.2 548.7C737.6 554.1 736.6 560.0 735.0 565.7C733.4 571.4 730.2 579.9 729.3 582.7" stroke-width="1.4" fill="none"/>
<path d="M750.6 517.6C748.7 519.7 742.0 525.3 739.2 530.3C736.4 535.2 735.2 541.6 733.6 547.3C732.0 553.0 731.2 558.6 729.3 564.3C727.4 569.9 723.5 578.4 722.3 581.2" stroke-width="1.4" fill="none"/>
<path d="M675 552L692 538.5L703 534.8L728 530.5L737 522L748 518" stroke-width="1.1" fill="none"/>
<path d="M736 519.5l8-3.5 1.5 2-8 4z" stroke-width="0.8" fill="#141414"/>
<path d="M702.5 539.5L733.6 532.4M701 537.5L702.5 543L733.6 537.4" stroke-width="1.3" fill="none"/>
<ellipse cx="690.2" cy="562.8" rx="13.6" ry="12.8" stroke-width="1.4"/>
<path d="M678 569A13.6 12.8 0 0 1 684 551.5" stroke-width="2.4"/>
<circle cx="690.4" cy="563.4" r="6.6" stroke-width="1.3"/>
<path d="M693.5 558.5a4 4 0 0 1 1 6.5M688 567.5l-2-2" stroke-width="1.3"/>
<path d="M697 545L706 552L716 575L724 586M710 549L704 572M712 548Q722 543 732 545M716 562Q724 558 731 560M708 556L726 583M722 554h8" stroke-width="1.6" fill="none"/>
<path d="M703 568L708 575M714 566L719 580" stroke-width="1.3" fill="none"/>
<path d="M712 574l6 2 4 8-8 2-3-6z" stroke-width="0.8" fill="#141414"/>
<path d="M714.5 577l2 .7 1.6 3.5-2.6.6z" stroke-width="0.4" fill="#e6e6ea"/>
<path d="M752 540.2L745 543L743 551L753 549M743 553L752 551.5M742 558L751 556.5M741.5 563L750.6 564.3M738 570L744 569.9" stroke-width="1.3" fill="none"/>
<path d="M746 536l5-1.5.5 3-5 1.5zM738.5 571l3.5-1.5 1 4-4 2z" stroke-width="0.8" fill="#141414"/>
<path d="M760.5 528.2L756 529L754.5 536L759 538.8" stroke-width="1.1" fill="none"/>
<path d="M680 574.5L706 573L708.5 578L707 589L701 594.5L687 598L683 592.5L680 584Z" stroke-width="1.0" fill="#1c1c1c"/>
<rect x="682.6" y="576.2" width="6.6" height="2.8" fill="#e6e6ea" stroke="none"/>
<rect x="691.2" y="575.8" width="6.6" height="2.8" fill="#e6e6ea" stroke="none"/>
<rect x="699.8" y="575.4" width="5" height="2.8" fill="#e6e6ea" stroke="none"/>
<rect x="683" y="581.2" width="5.8" height="3" fill="#e6e6ea" stroke="none"/>
<rect x="690.8" y="580.8" width="6.8" height="3" fill="#e6e6ea" stroke="none"/>
<rect x="699.4" y="580.4" width="5.8" height="3" fill="#e6e6ea" stroke="none"/>
<rect x="684.6" y="586.6" width="7" height="2.8" fill="#e6e6ea" stroke="none"/>
<rect x="693.4" y="586.2" width="7" height="2.8" fill="#e6e6ea" stroke="none"/>
<rect x="702" y="585.6" width="3.6" height="2.8" fill="#e6e6ea" stroke="none"/>
<rect x="687.4" y="591.8" width="4" height="3.2" fill="#e6e6ea" stroke="none"/>
<rect x="693.6" y="591.4" width="4" height="3.2" fill="#e6e6ea" stroke="none"/>
<path d="M674.5 554.5L676.5 566L682 573.5" stroke-width="1.4" fill="none"/>
<path d="M676 549.5L691.5 537.5L703 534" stroke-width="1.6" fill="none"/>
<path d="M700 546L709 553.5L714 565M705.5 552L700 571M719 549.5Q725 546.5 731.5 548M718 556.5h9M712.5 569.5Q720 565.5 729 567M706 574.5L711 583M717 571L723 584.5" stroke-width="1.7" fill="none"/>
<path d="M742.5 545.5L751.5 543.5M745 538.5L751 537" stroke-width="1.5" fill="none"/>
<path d="M739.8 573.5l3.6-2.2 1.2 3.4-3.6 2.6z" stroke-width="0.8" fill="#141414"/>
<circle cx="690.4" cy="563.4" r="3.4" stroke-width="1.1"/>
<path d="M766.7 529.4L799.3 536.4" stroke-width="1.7" stroke-dasharray="5.5 3"/>
<path d="M738.0 577.7L756.7 591.5" stroke-width="1.7" stroke-dasharray="5.5 3"/>
<path d="M710.3 597.8L729.0 612.8" stroke-width="1.7" stroke-dasharray="5.5 3"/>
<g transform="translate(951.2 404.4) rotate(-62)">
<ellipse cx="0" cy="0" rx="9.6" ry="5.2" stroke-width="2.1" fill="#e6e6ea"/>
<ellipse cx="-0.3" cy="0.5" rx="5.9" ry="1.9" stroke-width="1.5"/>
<path d="M-8 2.6A9.6 5.2 0 0 0 7 3.4" stroke-width="1.0" transform="translate(0 -1.4)"/>
</g>
<ellipse cx="928.9" cy="429.8" rx="12.7" ry="12.5" stroke-width="2.0" fill="#e6e6ea"/>
<path d="M919.3 424.3A10.8 10.8 0 0 0 922.4 438.6" stroke-width="1.2"/>
<g transform="translate(930.1999999999999 430.40000000000003) rotate(-35)">
<ellipse cx="0" cy="0" rx="6.6" ry="5.2" stroke-width="1.7"/>
<path d="M3.6 -2.6A4.2 3.2 0 1 0 4.2 1.2" stroke-width="1.3"/>
</g>
<g transform="translate(762.2 597) rotate(-62)">
<ellipse cx="0" cy="0" rx="9.6" ry="5.2" stroke-width="2.1" fill="#e6e6ea"/>
<ellipse cx="-0.3" cy="0.5" rx="5.9" ry="1.9" stroke-width="1.5"/>
<path d="M-8 2.6A9.6 5.2 0 0 0 7 3.4" stroke-width="1.0" transform="translate(0 -1.4)"/>
</g>
<ellipse cx="739.6" cy="623.3" rx="12.7" ry="12.5" stroke-width="2.0" fill="#e6e6ea"/>
<path d="M730.0 617.8A10.8 10.8 0 0 0 733.1 632.0999999999999" stroke-width="1.2"/>
<g transform="translate(740.9 623.9) rotate(-35)">
<ellipse cx="0" cy="0" rx="6.6" ry="5.2" stroke-width="1.7"/>
<path d="M3.6 -2.6A4.2 3.2 0 1 0 4.2 1.2" stroke-width="1.3"/>
</g>
<path d="M1029.8 609.3C1031.5 609.2 1034.8 610.2 1035.9 611.8C1037.0 613.4 1037.7 617.6 1037.9 620.4C1038.1 623.2 1038.3 628.5 1037.4 631.5C1036.5 634.5 1033.7 639.3 1031.8 641.6C1029.9 643.9 1025.6 647.1 1023.8 648.2C1022.0 649.3 1019.9 650.2 1018.7 649.7C1017.5 649.2 1015.8 647.0 1015.2 644.7C1014.6 642.4 1014.4 636.9 1014.7 633.5C1015.1 630.1 1016.4 623.4 1017.7 620.4C1019.0 617.4 1022.1 613.9 1023.8 612.3C1025.5 610.7 1028.1 609.4 1029.8 609.3Z" stroke-width="2.0" fill="#e6e6ea"/>
<path d="M1029.6 612.3C1030.2 612.6 1033.2 613.3 1034.0 614.5C1034.8 615.7 1035.2 618.7 1035.3 621.0C1035.4 623.3 1035.5 628.4 1034.8 631.0C1034.1 633.6 1031.7 637.8 1030.0 639.8C1028.3 641.8 1024.5 644.7 1023.0 645.6C1021.5 646.5 1020.1 646.2 1019.6 646.3" stroke-width="1.0" fill="none"/>
<ellipse cx="1029.6" cy="616.6" rx="2.6" ry="4.2" stroke-width="1.3" transform="rotate(15 1029.6 616.6)"/>
<ellipse cx="1020" cy="639.6" rx="2.5" ry="4.8" stroke-width="1.3" transform="rotate(12 1020 639.6)"/>
<path d="M1020.5 619.5C1021.8 620.2 1026.2 621.8 1028.0 623.5C1029.8 625.2 1031.2 627.5 1031.5 629.5C1031.8 631.5 1031.0 633.9 1030.0 635.5C1029.0 637.1 1026.6 637.8 1025.5 639.0C1024.4 640.2 1023.8 642.3 1023.5 643.0" stroke-width="1.5" fill="none"/>
<path d="M1023.0 621.0C1023.7 622.0 1026.2 625.2 1027.0 627.0C1027.8 628.8 1027.8 631.2 1028.0 632.0" stroke-width="1.2" fill="none"/>
<path d="M1005.6 623.4Q1005.4 621.2 1007.6 620.9L1011.6 620.9L1025.8 629.5Q1028.5 631.5 1027.8 632.5Q1027 634 1024.8 633.5L1015.7 631L1009.6 627.5Z" stroke-width="1.7" fill="#e6e6ea"/>
<path d="M1019.5 620.5L1021 626.5" stroke-width="2.0" fill="none"/>
<path d="M1025.5 631l2.5 1.5-1.5 1.6-2.2-.8z" stroke-width="1.0" fill="#141414"/>
<g transform="translate(971.2 603.7) rotate(15)">
<rect x="4.5" y="-2.3" width="10" height="4.6" rx="1.6" stroke-width="1.4" fill="#e6e6ea"/>
<path d="M7 -2.3l-0.8 4.6" stroke-width="0.9"/>
<path d="M9 -2.3l-0.8 4.6" stroke-width="0.9"/>
<path d="M11 -2.3l-0.8 4.6" stroke-width="0.9"/>
<path d="M13 -2.3l-0.8 4.6" stroke-width="0.9"/>
<circle cx="0" cy="0" r="5.4" stroke-width="1.9" fill="#e6e6ea"/>
<circle cx="-0.3" cy="0" r="2.8" stroke-width="1.2"/>
<path d="M-1.2 -0.8l1.8 1.6" stroke-width="1"/>
</g>
<path d="M987.4 606.7L1026.8 616.9" stroke-width="1.7" stroke-dasharray="5.5 3"/>
<path d="M617.8 604.9L620.1 603.9L640.5 602.9L652.4 601.9L662.2 616.7L660.9 622L639.9 622.6L637.2 627.9L617.5 627.6L617.2 618Z" stroke-width="1.0" fill="#161616"/>
<path d="M622 614.9L634.5 614.6L636.3 616.6L658.5 616L660 620.6L639.3 621.2L634.8 617.5L622 617.6Z" stroke-width="0.1" fill="#e6e6ea"/>
<path d="M622.8 606.3h3.9v4.6h-3.9z" stroke-width="0.1" fill="#e6e6ea"/>
<path d="M630.2 607L636 606.6L635.2 611L637 614.4L628.6 614.6L629 609.5Z" stroke-width="0.1" fill="#e6e6ea"/>
<path d="M637.4 609L650.4 608.6L651.4 613L638.4 613.6Z" stroke-width="0.1" fill="#e6e6ea"/>
<path d="M638.2 609.2l1 2.4 .8-2.4 1 2.2 .8-2.2 1 2 .8-2 1 1.8.8-1.8V609z" stroke-width="0.3" fill="#141414"/>
<path d="M650.5 608.5l2 4.5 1.5 1.5M649 617.8l1.5 1.8 1.4-1.8" stroke-width="1.2" fill="none"/>
<circle cx="636.5" cy="605.2" r="0.55" fill="#e6e6ea" stroke="none"/>
<circle cx="642" cy="604.6" r="0.55" fill="#e6e6ea" stroke="none"/>
<circle cx="647" cy="605.2" r="0.55" fill="#e6e6ea" stroke="none"/>
<circle cx="653.2" cy="606.8" r="0.55" fill="#e6e6ea" stroke="none"/>
<circle cx="655.6" cy="611" r="0.55" fill="#e6e6ea" stroke="none"/>
<circle cx="658" cy="615.2" r="0.55" fill="#e6e6ea" stroke="none"/>
<circle cx="620.2" cy="620.4" r="0.55" fill="#e6e6ea" stroke="none"/>
<circle cx="631.6" cy="620.4" r="0.55" fill="#e6e6ea" stroke="none"/>
<circle cx="621" cy="612" r="0.55" fill="#e6e6ea" stroke="none"/>
<path d="M620.5 624.4l4.5-1.6M628.8 624.6l5-1.8M626.4 625v1.6" stroke-width="1.0" fill="none" stroke="#e6e6ea"/>
<path d="M990.5 343.70000000000005L999.5 345.20000000000005" stroke-width="5" stroke-linecap="round"/>
<path d="M991.0 343.8l3 .5" stroke-width="1.4" stroke="#e6e6ea"/>
<ellipse cx="1001.5" cy="344.6" rx="4.3" ry="5.3" stroke-width="1.8" fill="#e6e6ea" transform="rotate(18 1001.5 344.6)"/>
<path d="M999.9 347.0l2.6-4.4" stroke-width="1.0"/>
<path d="M800.3 538.3000000000001L809.3 539.8000000000001" stroke-width="5" stroke-linecap="round"/>
<path d="M800.8 538.4000000000001l3 .5" stroke-width="1.4" stroke="#e6e6ea"/>
<ellipse cx="811.3" cy="539.2" rx="4.3" ry="5.3" stroke-width="1.8" fill="#e6e6ea" transform="rotate(18 811.3 539.2)"/>
<path d="M809.6999999999999 541.6l2.6-4.4" stroke-width="1.0"/>
<path d="M67.3 614Q59.5 640.2 67.3 666.5L72.4 663.3L83.9 651.7V629.3L72.4 617.2Z" stroke-width="1.6" fill="#e6e6ea"/>
<path d="M66.2 616Q60 640 66.2 664.5" stroke-width="2.2" fill="none"/>
<path d="M68.6 614.8V665.6M71.4 616.6V664M73.2 618V662.6" stroke-width="1.0" fill="none"/>
<path d="M64.8 621V659.5" stroke-width="0.9" fill="none" stroke="#9a9a9e"/>
<path d="M83.9 629.3H91V651.7H83.9" stroke-width="1.4" fill="none"/>
<rect x="91" y="628" width="16.6" height="24.4" rx="1.2" stroke-width="1.5" fill="#e6e6ea"/>
<path d="M93.2 628.6V651.8" stroke-width="1.1" stroke="#141414"/>
<path d="M95.6 628.6V651.8" stroke-width="1.1" stroke="#9a9a9e"/>
<path d="M98 628.6V651.8" stroke-width="1.1" stroke="#141414"/>
<path d="M100.4 628.6V651.8" stroke-width="1.1" stroke="#9a9a9e"/>
<path d="M102.8 628.6V651.8" stroke-width="1.1" stroke="#141414"/>
<path d="M105.2 628.6V651.8" stroke-width="1.1" stroke="#9a9a9e"/>
<path d="M107.6 630.6H126.8M107.6 649.8H126.8" stroke-width="1.5" fill="none"/>
<path d="M110 631.2V649.2" stroke-width="1.1" stroke="#141414"/>
<path d="M112.4 631.2V649.2" stroke-width="1.1" stroke="#9a9a9e"/>
<path d="M114.8 631.2V649.2" stroke-width="1.1" stroke="#141414"/>
<path d="M117.2 631.2V649.2" stroke-width="1.1" stroke="#9a9a9e"/>
<path d="M119.6 631.2V649.2" stroke-width="1.1" stroke="#141414"/>
<path d="M122 631.2V649.2" stroke-width="1.1" stroke="#9a9a9e"/>
<path d="M124.4 631.2V649.2" stroke-width="1.1" stroke="#141414"/>
<rect x="126.8" y="628" width="8.8" height="24.4" rx="1.2" stroke-width="1.5" fill="#e6e6ea"/>
<path d="M129.4 628.6V651.8M131.8 628.6V651.8" stroke-width="1.1" fill="none"/>
<path d="M134.4 629V651.6" stroke-width="1.6" fill="none" stroke-dasharray="0.8 0.8"/>
<path d="M191.6 612Q183.8 638.3 191.6 664.5L195.5 663.6L199.3 658.8L206.4 649.2V627.4L199.3 617.8L195.5 612.7Z" stroke-width="1.6" fill="#e6e6ea"/>
<path d="M193.6 612.4V664.2" stroke-width="3.0" fill="none"/>
<path d="M190.6 614Q184.4 638 190.6 662.5" stroke-width="1.8" fill="none"/>
<path d="M197.4 615.6V661.2M199.3 617.8V658.8" stroke-width="1.0" fill="none"/>
<path d="M188.4 620V657" stroke-width="0.9" fill="none" stroke="#9a9a9e"/>
<path d="M206.4 627.4Q207.5 626.4 210 626.1H253Q256 627 257 629.3V646.5Q256 649.5 253 650.5H210Q207.5 650.2 206.4 649.2" stroke-width="1.6" fill="none"/>
<path d="M210.2 626.8V649.8" stroke-width="1.15" stroke="#141414"/>
<path d="M212.9 626.8V649.8" stroke-width="1.15" stroke="#141414"/>
<path d="M215.7 626.8V649.8" stroke-width="1.15" stroke="#9a9a9e"/>
<path d="M218.4 626.8V649.8" stroke-width="1.15" stroke="#141414"/>
<path d="M221.2 626.8V649.8" stroke-width="1.15" stroke="#141414"/>
<path d="M223.9 626.8V649.8" stroke-width="1.15" stroke="#9a9a9e"/>
<path d="M226.7 626.8V649.8" stroke-width="1.15" stroke="#141414"/>
<path d="M229.4 626.8V649.8" stroke-width="1.15" stroke="#141414"/>
<path d="M232.2 626.8V649.8" stroke-width="1.15" stroke="#9a9a9e"/>
<path d="M234.9 626.8V649.8" stroke-width="1.15" stroke="#141414"/>
<path d="M237.7 626.8V649.8" stroke-width="1.15" stroke="#141414"/>
<path d="M240.4 626.8V649.8" stroke-width="1.15" stroke="#9a9a9e"/>
<path d="M243.2 626.8V649.8" stroke-width="1.15" stroke="#141414"/>
<path d="M245.9 626.8V649.8" stroke-width="1.15" stroke="#141414"/>
<path d="M248.7 626.8V649.8" stroke-width="1.15" stroke="#9a9a9e"/>
<path d="M251.4 626.8V649.8" stroke-width="1.15" stroke="#141414"/>
<path d="M257 629.3H265.6V646.2H257" stroke-width="1.4" fill="none"/>
<path d="M264.6 630V645.6" stroke-width="1.6" fill="none" stroke-dasharray="0.8 0.8"/>
<defs><path id="wm" d="M402.3 365.2C401 360.8 398 358.3 394.6 358.3C390 358.3 387.3 361.6 387.3 365.3C387.3 369.8 390.8 371.4 394.8 373C399.6 374.9 403.2 376.8 403.2 380.6C403.2 384.8 399.6 387.2 395.2 387.2C390.6 387.2 387.4 384.4 386.7 380.2M413.1 377.2H430.9A8.8 9.9 0 1 0 429.0 383.4M463.9 357.6V387.2M463.9 377.25A10.7 9.95 0 1 0 442.5 377.25A10.7 9.95 0 1 0 463.9 377.25M494 367.3V387.2M494 377.25A9.25 9.95 0 1 0 475.5 377.25A9.25 9.95 0 1 0 494 377.25M504.8 367.3V387.2M504.8 376.2A8.9 8.9 0 0 1 522.6 376.2V387.2M529.6 358.3L541.9 387.2L554.2 358.3M561.8 367.3V387.2M561.5 358.2a0.3 0.3 0 1 0 0.6 0a0.3 0.3 0 1 0 -0.6 0M572.2 377.2H591.4A9.6 9.9 0 1 0 589.4 383.4M605.8 358.3V387.2M599.5 366.8H612.2M619.4 386.9a0.3 0.3 0 1 0 0.6 0a0.3 0.3 0 1 0 -0.6 0M628.8 367.3L637.4 387.2L646 367.3M656.4 367.3V387.2M656.4 376.2A9.2 8.9 0 0 1 674.8 376.2V387.2" fill="none" stroke-linecap="butt" stroke-linejoin="miter" stroke-miterlimit="6"/><mask id="wmm" maskUnits="userSpaceOnUse" x="370" y="345" width="330" height="60"><use href="#wm" stroke="#fff" stroke-width="6.4"/><use href="#wm" stroke="#000" stroke-width="3.7"/></mask></defs>
<use href="#wm" stroke="#f4f4f8" stroke-opacity="0.55" stroke-width="3.8"/>
<rect x="370" y="345" width="330" height="60" fill="#8c8c90" stroke="none" mask="url(#wmm)"/>
</g>
</svg>
</body></html>
